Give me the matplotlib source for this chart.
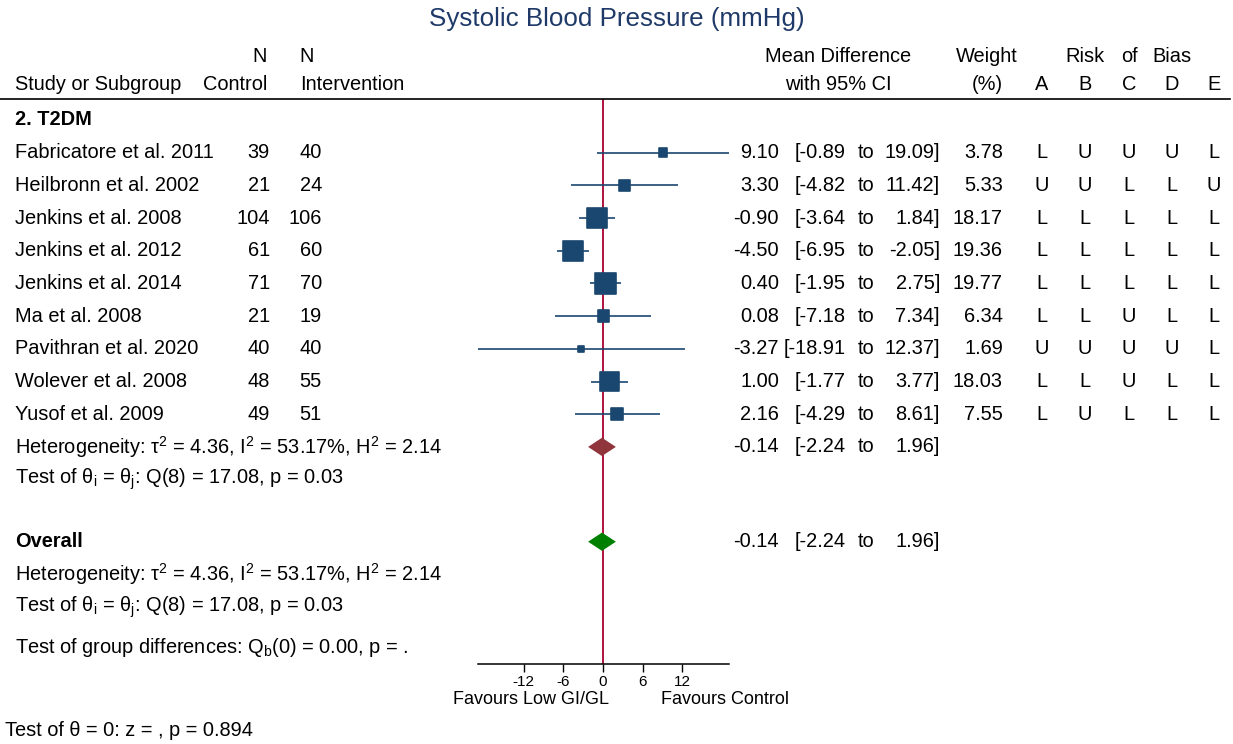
import numpy as np
import matplotlib.pyplot as plt
from matplotlib.lines import Line2D
from matplotlib.transforms import blended_transform_factory

plt.rcParams['font.family'] = ['Liberation Sans', 'DejaVu Sans']
plt.rcParams['mathtext.fontset'] = 'custom'
plt.rcParams['mathtext.rm'] = 'Liberation Sans'
plt.rcParams['mathtext.it'] = 'Liberation Sans'
plt.rcParams['axes.unicode_minus'] = False

# study data (T2DM subgroup)
studies = ["Fabricatore et al. 2011", "Heilbronn et al. 2002", "Jenkins et al. 2008",
           "Jenkins et al. 2012", "Jenkins et al. 2014", "Ma et al. 2008",
           "Pavithran et al. 2020", "Wolever et al. 2008", "Yusof et al. 2009"]
n_control = [39, 21, 104, 61, 71, 21, 40, 48, 49]
n_interv = [40, 24, 106, 60, 70, 19, 40, 55, 51]
md = [9.10, 3.30, -0.90, -4.50, 0.40, 0.08, -3.27, 1.00, 2.16]
ci_lo = [-0.89, -4.82, -3.64, -6.95, -1.95, -7.18, -18.91, -1.77, -4.29]
ci_hi = [19.09, 11.42, 1.84, -2.05, 2.75, 7.34, 12.37, 3.77, 8.61]
weight = [3.78, 5.33, 18.17, 19.36, 19.77, 6.34, 1.69, 18.03, 7.55]
rob = ["LUUUL", "UULLU", "LLLLL", "LLLLL", "LLLLL", "LLULL", "UUUUL", "LLULL", "LULLL"]
rob_cols = ["A", "B", "C", "D", "E"]

# pooled estimates: subgroup and overall
sub_md, sub_lo, sub_hi = -0.14, -2.24, 1.96
all_md, all_lo, all_hi = -0.14, -2.24, 1.96

het_text = "Heterogeneity: \u03c4$^{2}$ = 4.36, I$^{2}$ = 53.17%, H$^{2}$ = 2.14"
q_text = "Test of \u03b8$_{i}$ = \u03b8$_{j}$: Q(8) = 17.08, p = 0.03"
grp_text = "Test of group differences: Q$_{b}$(0) = 0.00, p = ."
z_text = "Test of \u03b8 = 0: z = , p = 0.894"

navy = '#1a476f'
maroon = '#90353b'
green = '#008000'
refline = '#b0123f'
fs = 14.4

W, H = 1233, 744
fig = plt.figure(figsize=(W / 100, H / 100), dpi=100)


def fx(x):
    return x / W


def fy(y):
    return 1 - y / H


# forest panel: rows counted downward
ax = fig.add_axes([fx(478), fy(664), fx(729 - 478), (664 - 99) / H])
ax.set_xlim(min(ci_lo), max(ci_hi))
ax.set_ylim(16.64, -0.64)
for s in ['top', 'left', 'right']:
    ax.spines[s].set_visible(False)
ax.spines['bottom'].set_linewidth(1.1)
ax.set_yticks([])
ax.set_xticks([-12, -6, 0, 6, 12])
ax.tick_params(axis='x', length=6, width=1, labelsize=11, pad=2)

rows = np.arange(1, len(studies) + 1)
sub_row, q_row = 10, 11
all_row, het2_row, q2_row, grp_row = 12.9, 13.9, 14.9, 16.15

ax.axvline(0, color=refline, lw=1.4, zorder=1)
ax.hlines(rows, ci_lo, ci_hi, color=navy, lw=1.2, zorder=2)
# box area follows the study weight
side_pt = 4.55 * np.sqrt(weight) * 0.72
ax.scatter(md, rows, marker='s', s=side_pt ** 2, color=navy, edgecolors=navy,
           linewidths=1.2, zorder=3)

dh = 0.28
ax.fill([sub_lo, sub_md, sub_hi, sub_md], [sub_row, sub_row - dh, sub_row, sub_row + dh],
        color=maroon, lw=0, zorder=3)
ax.fill([all_lo, all_md, all_hi, all_md], [all_row, all_row - dh, all_row, all_row + dh],
        color=green, lw=0, zorder=3)

tr = blended_transform_factory(fig.transFigure, ax.transData)


def put(x, y, s, ha='left', **kw):
    ax.text(fx(x), y, s, transform=tr, ha=ha, va='center', fontsize=fs, **kw)


def fmt(v):
    return f"{v:.2f}"


put(15, 0, "2. T2DM", weight='bold')
for i, r in enumerate(rows):
    put(15, r, studies[i])
    put(270, r, str(n_control[i]), ha='right')
    put(322, r, str(n_interv[i]), ha='right')
    put(779, r, fmt(md[i]), ha='right')
    put(846, r, "[" + fmt(ci_lo[i]), ha='right')
    put(866, r, "to", ha='center')
    put(940, r, fmt(ci_hi[i]) + "]", ha='right')
    put(1003, r, fmt(weight[i]), ha='right')
    for j, xc in enumerate([1042, 1085, 1129, 1172, 1214]):
        put(xc, r, rob[i][j], ha='center')

for r, (m, lo, hi) in [(sub_row, (sub_md, sub_lo, sub_hi)), (all_row, (all_md, all_lo, all_hi))]:
    put(779, r, fmt(m), ha='right')
    put(846, r, "[" + fmt(lo), ha='right')
    put(866, r, "to", ha='center')
    put(940, r, fmt(hi) + "]", ha='right')

put(15, sub_row, het_text)
put(15, q_row, q_text)
put(15, all_row, "Overall", weight='bold')
put(15, het2_row, het_text)
put(15, q2_row, q_text)
put(15, grp_row, grp_text)

# header block
fig.text(0.5, fy(19), "Systolic Blood Pressure (mmHg)", ha='center', va='center',
         fontsize=18.7, color='#1f3a68')
hdr = dict(va='center', fontsize=fs)
fig.text(fx(260), fy(57), "N", ha='center', **hdr)
fig.text(fx(307), fy(57), "N", ha='center', **hdr)
fig.text(fx(15), fy(84), "Study or Subgroup", ha='left', **hdr)
fig.text(fx(267), fy(84), "Control", ha='right', **hdr)
fig.text(fx(300), fy(84), "Intervention", ha='left', **hdr)
fig.text(fx(838), fy(57), "Mean Difference", ha='center', **hdr)
fig.text(fx(838), fy(84), "with 95% CI", ha='center', **hdr)
fig.text(fx(987), fy(57), "Weight", ha='center', **hdr)
fig.text(fx(987), fy(84), "(%)", ha='center', **hdr)
for word, xc in zip(["Risk", "of", "Bias"], [1085, 1129, 1172]):
    fig.text(fx(xc), fy(57), word, ha='center', **hdr)
for lab, xc in zip(rob_cols, [1042, 1085, 1129, 1172, 1214]):
    fig.text(fx(xc), fy(84), lab, ha='center', **hdr)
fig.add_artist(Line2D([0, fx(1230)], [fy(99), fy(99)], color='black', lw=1.2))

fig.text(fx(531), fy(700), "Favours Low GI/GL", ha='center', va='center', fontsize=13)
fig.text(fx(725), fy(700), "Favours Control", ha='center', va='center', fontsize=13)
fig.text(fx(5), fy(731), z_text, ha='left', va='center', fontsize=fs)

fig.savefig("out.png", dpi=100, facecolor='white')
